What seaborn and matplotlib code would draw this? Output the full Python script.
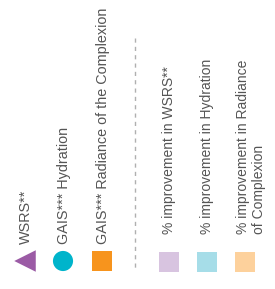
import matplotlib
matplotlib.use("Agg")
import matplotlib.pyplot as plt
import seaborn as sns

# legend entries
main_labels = ["WSRS**", "GAIS*** Hydration", "GAIS*** Radiance of the Complexion"]
main_colors = ["#9b5ba5", "#00b4cb", "#f7941d"]
main_markers = ["<", "o", "s"]

improve_labels = ["% improvement in WSRS**", "% improvement in Hydration",
                  "% improvement in Radiance\nof Complexion"]
improve_colors = ["#d8c4e0", "#a6dde8", "#fdd19c"]

sns.set_style("white")
plt.rcParams["font.family"] = ["Liberation Sans", "DejaVu Sans"]

fig = plt.figure(figsize=(2.75, 2.89), dpi=100)
ax = fig.add_axes([0, 0, 1, 1])
ax.set_xlim(0, 275)
ax.set_ylim(289, 0)
ax.axis("off")

#left block: marker + rotated label
main_x = [25, 63, 102]
for x, lab, col, m in zip(main_x, main_labels, main_colors, main_markers):
    sz = 240 if m == "<" else 210
    sns.scatterplot(x=[x], y=[261], marker=m, s=sz, color=col, edgecolor="none", ax=ax)
    ax.text(x + 1, 244, lab, rotation=90, ha="center", va="bottom", fontsize=10.4, color="#555555")

# dashed separator
ax.plot([135, 135], [38, 268], ls=(0, (3, 3)), color="#b0b0b0", lw=1)

#right block: light squares
imp_x = [169, 207, 245]
for x, lab, col in zip(imp_x, improve_labels, improve_colors):
    sns.scatterplot(x=[x], y=[262], marker="s", s=190, color=col, edgecolor="none", ax=ax)
    tx = x if "\n" not in lab else x + 6
    ax.text(tx, 234, lab, rotation=90, ha="center", va="bottom", fontsize=10,
            color="#555555", multialignment="left", linespacing=1.15)

fig.savefig("out.png", dpi=100)
